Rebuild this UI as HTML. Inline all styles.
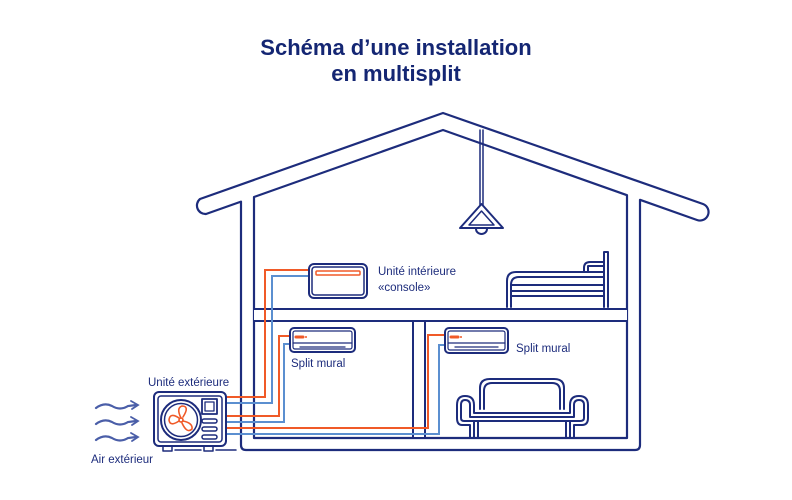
<!DOCTYPE html>
<html><head><meta charset="utf-8"><style>
html,body{margin:0;padding:0;background:#fff}
svg{display:block}
text{font-family:"Liberation Sans",sans-serif;fill:#1d2c7c}
</style></head><body>
<svg width="792" height="500" viewBox="0 0 792 500" xmlns="http://www.w3.org/2000/svg">
<text x="396" y="55" font-size="22" font-weight="bold" text-anchor="middle" style="fill:#142673">Schéma d’une installation</text>
<text x="396" y="81" font-size="22" font-weight="bold" text-anchor="middle" style="fill:#142673">en multisplit</text>

<g fill="none" stroke-linecap="round">
<!-- house outer outline -->
<path d="M241,201.6 V445 Q241,450 246,450 H635 Q640,450 640,445 V199.8 L697,220 A8.5,8.5 0 0 0 703,204 L443,113 L200,199 A8.5,8.5 0 0 0 206,214 Z" fill="#fff" stroke="#1d2c7c" stroke-width="2.2" stroke-linejoin="round"/>
<!-- inner -->
<path d="M254,197 L443,130 L627,195.2 V438 H254 Z" fill="#fff" stroke="#1d2c7c" stroke-width="2.2" stroke-linejoin="round"/>
<!-- floor -->
<rect x="254" y="309" width="373" height="12" fill="#fff" stroke="none"/>
<path d="M254,309 H627 M254,321 H627" stroke="#1d2c7c" stroke-width="2"/>
<!-- partition -->
<rect x="413" y="321" width="12" height="117" stroke="#1d2c7c" stroke-width="2" fill="#fff"/>

<!-- lamp -->
<path d="M480,130 V205 M483,130 V205" stroke="#1d2c7c" stroke-width="1.5"/>
<path d="M481.5,204 L460,228 H503 Z" stroke="#1d2c7c" stroke-width="2" stroke-linejoin="round"/>
<path d="M481.5,211 L469,225 H494 Z" stroke="#1d2c7c" stroke-width="1.5" stroke-linejoin="round"/>
<path d="M476,229 A5.5,5 0 0 0 487,229" stroke="#1d2c7c" stroke-width="2"/>

<!-- pipes -->
<path d="M226,397 H265 V270 H309" stroke="#f05a28" stroke-width="2" stroke-linecap="butt"/>
<path d="M226,403 H272 V276 H309" stroke="#5b8fd0" stroke-width="2" stroke-linecap="butt"/>
<path d="M226,416 H279 V336 H291" stroke="#f05a28" stroke-width="2" stroke-linecap="butt"/>
<path d="M226,422 H284 V344 H291" stroke="#5b8fd0" stroke-width="2" stroke-linecap="butt"/>
<path d="M226,428 H428 V335 H446" stroke="#f05a28" stroke-width="2" stroke-linecap="butt"/>
<path d="M226,434 H439 V345 H446" stroke="#5b8fd0" stroke-width="2" stroke-linecap="butt"/>

<!-- console -->
<rect x="309" y="264" width="58" height="34" rx="5" fill="#fff" stroke="#1d2c7c" stroke-width="2"/>
<rect x="312" y="267" width="52" height="28" rx="3" stroke="#1d2c7c" stroke-width="1.5"/>
<rect x="316" y="271" width="44" height="4" rx="1" stroke="#f05a28" stroke-width="1.5"/>

<!-- split left -->
<g transform="translate(290,328)">
<rect x="0" y="0" width="65" height="24" rx="4" fill="#fff" stroke="#1d2c7c" stroke-width="2"/>
<rect x="3" y="3" width="59" height="18" rx="2" stroke="#1d2c7c" stroke-width="1.2"/>
<path d="M3,15 H62 M10,19 H55" stroke="#1d2c7c" stroke-width="1.3"/>
<path d="M6,9 H13" stroke="#f05a28" stroke-width="3"/><circle cx="16" cy="9" r="1" fill="#f05a28" stroke="none"/>
</g>
<!-- split right -->
<g transform="translate(445,328)">
<rect x="0" y="0" width="63" height="25" rx="4" fill="#fff" stroke="#1d2c7c" stroke-width="2"/>
<rect x="3" y="3" width="57" height="19" rx="2" stroke="#1d2c7c" stroke-width="1.2"/>
<path d="M3,15 H60 M10,19 H53" stroke="#1d2c7c" stroke-width="1.3"/>
<path d="M6,9 H13" stroke="#f05a28" stroke-width="3"/><circle cx="16" cy="9" r="1" fill="#f05a28" stroke="none"/>
</g>

<!-- bed -->
<g stroke="#1d2c7c" stroke-width="2" stroke-linejoin="round">
<path d="M507,307 V281 Q507,272 516,272 H604 M511,307 V285 Q511,277 519,277 H604"/>
<path d="M511,285 H604 M511,291 H604 M511,296 H604"/>
<path d="M604,307 V252 M608,307 V252 M604,252 H608"/>
<path d="M584,272 V268 Q584,262 590,262 H604 M588,272 V266 H604"/>
</g>

<!-- sofa -->
<g stroke="#1d2c7c" stroke-width="2" stroke-linejoin="round">
<path d="M480,409 V388 Q480,379 490,379 H554 Q564,379 564,388 V409"/>
<path d="M484,409 V391 Q484,383 492,383 H552 Q560,383 560,391 V409"/>
<path d="M470,437 V425 H462 Q457,425 457,418 V405 Q457,396 465,396 Q474,396 474,405 V413 H570 V405 Q570,396 579,396 Q588,396 588,405 V418 Q588,425 582,425 H574 V437"/>
<path d="M461,405 Q461,400 465,400 Q470,400 470,405 V417 H574 V405 Q574,400 579,400 Q584,400 584,405 V418 Q584,421 580,421 H464 Q461,421 461,418 Z"/>
<path d="M474,421 V437 M478,421 V437 M566,421 V437 M570,421 V437"/>
</g>

<!-- outdoor unit -->
<g stroke="#1d2c7c" stroke-width="2" stroke-linejoin="round">
<rect x="154" y="392" width="72" height="54" rx="5" fill="#fff"/>
<rect x="158" y="396" width="64" height="46" rx="3" stroke-width="1.5"/>
<circle cx="181" cy="420" r="20"/>
<circle cx="181" cy="420" r="16.5" stroke-width="1.5"/>
<rect x="202" y="399" width="15" height="15" stroke-width="1.8"/>
<rect x="205" y="402" width="9" height="9" stroke-width="1.3"/>
<rect x="202" y="419" width="15" height="4" rx="2" stroke-width="1.5"/>
<rect x="202" y="427" width="15" height="4" rx="2" stroke-width="1.5"/>
<rect x="202" y="435" width="15" height="4" rx="2" stroke-width="1.5"/>
<path d="M163,446 V451 H172 V446 M204,446 V451 H213 V446 M175,450 H201 M216,450 H236" stroke-width="1.5"/>
</g>
<g stroke="#f05a28" stroke-width="1.6" stroke-linejoin="round">
<circle cx="181" cy="420" r="2"/>
<path d="M181,418 Q176,408 182,406 Q190,406 183,417"/>
<path d="M183,421 Q193,423 192,429 Q187,434 182,423"/>
<path d="M179,421 Q170,427 169,420 Q170,412 179,418"/>
</g>
<!-- wind -->
<g stroke="#4a5ea8" stroke-width="2.2">
<path d="M96,408 Q104,402 112,406 Q120,411 128,406 L136,405"/>
<path d="M96,424 Q104,418 112,422 Q120,427 128,422 L136,421"/>
<path d="M96,440 Q104,434 112,438 Q120,443 128,438 L136,437"/>
<path d="M131,401 L138,405 L132,409 M131,417 L138,421 L132,425 M131,433 L138,437 L132,441" stroke-width="1.8"/>
</g>
</g>

<text x="378" y="275" font-size="11.5">Unité intérieure</text>
<text x="378" y="291" font-size="11.5">«console»</text>
<text x="291" y="367" font-size="11.5">Split mural</text>
<text x="516" y="352" font-size="11.5">Split mural</text>
<text x="148" y="386" font-size="11.5">Unité extérieure</text>
<text x="91" y="463" font-size="11.5">Air extérieur</text>
</svg>
</body></html>
